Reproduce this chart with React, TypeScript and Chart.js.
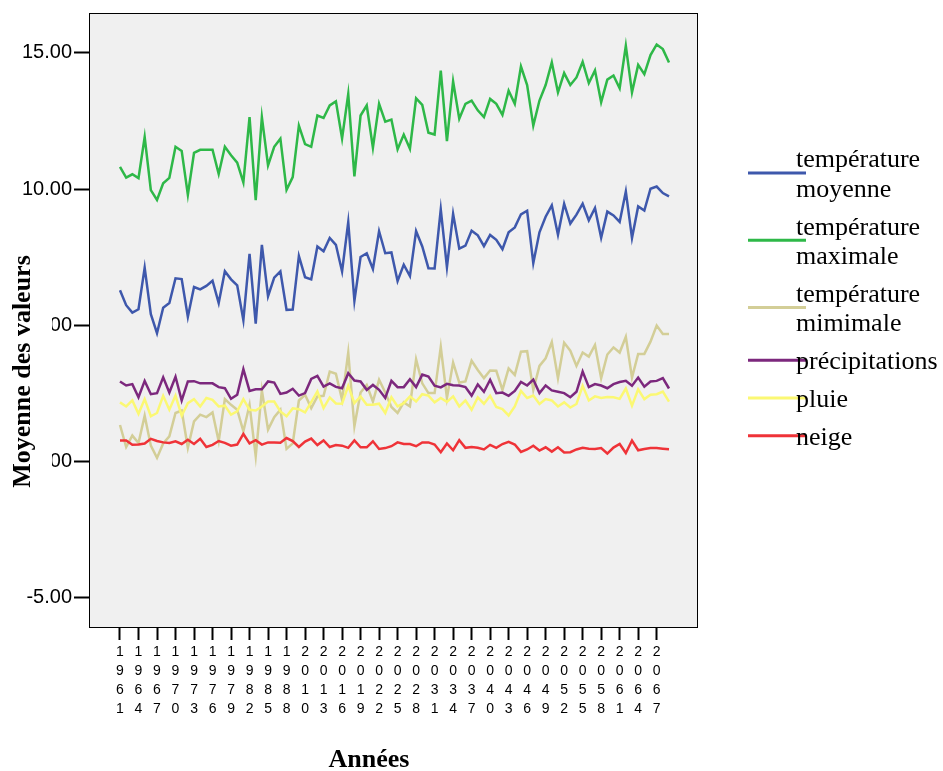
import React, { useEffect, useRef } from "react";
import { Chart, registerables } from "chart.js";

Chart.register(...registerables);

const years = [
  1961, 1962, 1963, 1964, 1965, 1966, 1967, 1968, 1969, 1970,
  1971, 1972, 1973, 1974, 1975, 1976, 1977, 1978, 1979, 1980,
  1981, 1982, 1983, 1984, 1985, 1986, 1987, 1988, 1989, 1990,
  2010, 2011, 2012, 2013, 2014, 2015, 2016, 2017, 2018, 2019,
  2020, 2021, 2022, 2023, 2024, 2025, 2026, 2027, 2028, 2029,
  2030, 2031, 2032, 2033, 2034, 2035, 2036, 2037, 2038, 2039,
  2040, 2041, 2042, 2043, 2044, 2045, 2046, 2047, 2048, 2049,
  2050, 2051, 2052, 2053, 2054, 2055, 2056, 2057, 2058, 2059,
  2060, 2061, 2062, 2063, 2064, 2065, 2066, 2067, 2068, 2069,
];

const temperatureMoyenne = [
  6.28, 5.73, 5.46, 5.58, 7.11, 5.40, 4.70, 5.64, 5.81, 6.72,
  6.69, 5.30, 6.40, 6.31, 6.44, 6.63, 5.81, 6.98, 6.68, 6.46,
  5.18, 7.62, 5.05, 7.95, 6.06, 6.74, 6.97, 5.56, 5.57, 7.54,
  6.76, 6.68, 7.89, 7.71, 8.20, 7.95, 6.97, 8.78, 5.89, 7.50,
  7.64, 7.06, 8.45, 7.64, 7.67, 6.62, 7.22, 6.80, 8.45, 7.89,
  7.09, 7.08, 9.25, 7.13, 9.09, 7.81, 7.92, 8.47, 8.30, 7.90,
  8.31, 8.13, 7.79, 8.41, 8.59, 9.07, 9.20, 7.28, 8.41, 8.98,
  9.40, 8.32, 9.46, 8.73, 9.06, 9.46, 8.85, 9.30, 8.21, 9.17,
  9.03, 8.79, 9.91, 8.20, 9.36, 9.21, 10.01, 10.09, 9.85, 9.73,
];

const temperatureMaximale = [
  10.81, 10.42, 10.54, 10.40, 11.91, 9.96, 9.60, 10.21, 10.41, 11.55,
  11.40, 9.79, 11.33, 11.44, 11.44, 11.44, 10.55, 11.55, 11.24, 10.97,
  10.24, 12.64, 9.59, 12.64, 10.87, 11.55, 11.85, 9.97, 10.44, 12.33,
  11.65, 11.55, 12.70, 12.61, 13.07, 13.22, 11.86, 13.49, 10.46, 12.70,
  13.07, 11.52, 13.13, 12.47, 12.55, 11.46, 12.00, 11.48, 13.33, 13.09,
  12.07, 12.00, 14.35, 11.76, 13.95, 12.58, 13.13, 13.25, 12.89, 12.64,
  13.31, 13.13, 12.72, 13.61, 13.13, 14.50, 13.82, 12.33, 13.25, 13.82,
  14.65, 13.55, 14.26, 13.82, 14.10, 14.67, 13.89, 14.36, 13.19, 14.02,
  14.17, 13.70, 15.26, 13.55, 14.56, 14.22, 14.92, 15.31, 15.14, 14.65,
];

const temperatureMinimale = [
  1.33, 0.52, 0.94, 0.67, 1.67, 0.57, 0.12, 0.65, 0.91, 1.77,
  1.86, 0.49, 1.46, 1.71, 1.62, 1.79, 0.73, 2.28, 2.07, 1.89,
  1.10, 2.07, 0.18, 2.60, 1.16, 1.62, 1.89, 0.45, 0.65, 2.23,
  2.44, 1.95, 2.38, 2.40, 3.29, 3.21, 2.25, 3.99, 1.28, 2.52,
  2.80, 2.19, 2.99, 2.52, 1.99, 1.77, 2.16, 2.01, 3.74, 2.86,
  2.50, 2.50, 4.20, 2.32, 3.62, 2.89, 2.93, 3.69, 3.35, 3.05,
  3.33, 3.32, 2.62, 3.41, 3.17, 4.02, 4.04, 2.62, 3.50, 3.78,
  4.38, 3.05, 4.35, 4.06, 3.50, 3.99, 3.84, 4.27, 3.05, 3.92,
  4.18, 3.99, 4.57, 3.07, 3.94, 3.94, 4.39, 4.98, 4.67, 4.67,
];

const precipitations = [
  2.93, 2.78, 2.83, 2.35, 2.95, 2.46, 2.50, 3.08, 2.52, 3.10,
  2.23, 2.93, 2.94, 2.86, 2.86, 2.86, 2.72, 2.68, 2.29, 2.44,
  3.38, 2.58, 2.64, 2.64, 2.93, 2.89, 2.47, 2.52, 2.66, 2.41,
  2.50, 3.02, 3.13, 2.74, 2.86, 2.73, 2.68, 3.23, 2.96, 2.93,
  2.62, 2.80, 2.62, 2.32, 2.95, 2.72, 2.72, 3.01, 2.72, 3.18,
  3.11, 2.77, 2.71, 2.84, 2.79, 2.78, 2.72, 2.41, 2.82, 2.55,
  2.99, 2.50, 2.52, 2.40, 2.58, 2.91, 2.78, 3.00, 2.50, 2.78,
  2.60, 2.55, 2.50, 2.35, 2.55, 3.29, 2.72, 2.83, 2.78, 2.68,
  2.83, 2.91, 2.95, 2.77, 3.07, 2.74, 2.93, 2.95, 3.05, 2.67,
];

const pluie = [
  2.16, 2.01, 2.23, 1.74, 2.28, 1.65, 1.77, 2.40, 1.89, 2.41,
  1.67, 2.13, 2.28, 2.01, 2.32, 2.25, 2.01, 2.04, 1.71, 1.83,
  2.28, 1.89, 1.86, 2.01, 2.19, 2.19, 1.83, 1.65, 1.94, 1.91,
  1.79, 2.17, 2.56, 1.95, 2.34, 2.12, 2.11, 2.77, 2.13, 2.38,
  2.07, 2.07, 2.11, 1.77, 2.35, 2.01, 2.13, 2.38, 2.19, 2.46,
  2.41, 2.16, 2.32, 2.18, 2.38, 2.01, 2.23, 1.89, 2.34, 2.11,
  2.40, 1.99, 1.91, 1.68, 2.01, 2.58, 2.32, 2.41, 2.10, 2.28,
  2.23, 2.01, 2.16, 1.97, 2.10, 2.77, 2.23, 2.38, 2.32, 2.36,
  2.35, 2.29, 2.67, 2.04, 2.64, 2.28, 2.44, 2.46, 2.56, 2.19,
];

const neige = [
  0.76, 0.76, 0.60, 0.61, 0.65, 0.82, 0.74, 0.69, 0.67, 0.73,
  0.63, 0.79, 0.63, 0.82, 0.52, 0.60, 0.74, 0.67, 0.57, 0.61,
  1.00, 0.65, 0.77, 0.61, 0.69, 0.69, 0.68, 0.85, 0.74, 0.52,
  0.72, 0.83, 0.59, 0.76, 0.52, 0.59, 0.57, 0.49, 0.76, 0.51,
  0.51, 0.73, 0.45, 0.48, 0.55, 0.69, 0.63, 0.63, 0.55, 0.69,
  0.69, 0.61, 0.33, 0.65, 0.40, 0.77, 0.49, 0.52, 0.49, 0.43,
  0.60, 0.49, 0.63, 0.71, 0.61, 0.34, 0.43, 0.57, 0.39, 0.51,
  0.35, 0.51, 0.32, 0.33, 0.43, 0.49, 0.46, 0.45, 0.48, 0.28,
  0.50, 0.63, 0.30, 0.76, 0.40, 0.45, 0.48, 0.48, 0.46, 0.44,
];

const seriesLabels = [
  ["température", "moyenne"],
  ["température", "maximale"],
  ["température", "mimimale"],
  ["précipitations"],
  ["pluie"],
  ["neige"],
];

const seriesColors = ["#3E58AC", "#2EB848", "#D3CE97", "#7C287D", "#FBF873", "#EF3338"];

const yTickValues = [-5, 0, 5, 10, 15];

const yTitle = "Moyenne des valeurs";
const xTitle = "Années";

const overlayPlugin = {
  id: "spssOverlay",
  beforeDraw(chart: any) {
    const { ctx, chartArea } = chart;
    ctx.save();
    ctx.fillStyle = "#ffffff";
    ctx.fillRect(0, 0, chart.width, chart.height);
    ctx.fillStyle = "#f0f0f0";
    ctx.fillRect(chartArea.left, chartArea.top, chartArea.right - chartArea.left, chartArea.bottom - chartArea.top);
    ctx.restore();
  },
  afterDraw(chart: any) {
    const { ctx, chartArea } = chart;
    ctx.save();
    // plot frame
    ctx.strokeStyle = "#000000";
    ctx.lineWidth = 1;
    ctx.strokeRect(chartArea.left - 0.5, chartArea.top - 0.5, chartArea.right - chartArea.left, chartArea.bottom - chartArea.top);

    // y-axis title with white box (hides part of tick labels as in the reference)
    ctx.fillStyle = "#ffffff";
    ctx.fillRect(0, 250, 52, 244);
    ctx.fillStyle = "#000000";
    ctx.font = "bold 26px 'Liberation Serif', 'Times New Roman', serif";
    ctx.textAlign = "center";
    ctx.textBaseline = "alphabetic";
    ctx.translate(30, 371.5);
    ctx.rotate(-Math.PI / 2);
    ctx.fillText(yTitle, 0, 0);
    ctx.setTransform(1, 0, 0, 1, 0, 0);

    // x-axis title
    ctx.font = "bold 26px 'Liberation Serif', 'Times New Roman', serif";
    ctx.textAlign = "center";
    ctx.textBaseline = "alphabetic";
    ctx.fillText(xTitle, 369, 767);

    // legend
    const lineH = 29.5;
    const gap = 8.3;
    let top = 143.5;
    const lineX0 = 748;
    const lineX1 = 806;
    const textX = 796;
    ctx.font = "26px 'Liberation Serif', 'Times New Roman', serif";
    ctx.textAlign = "left";
    chart.data.datasets.forEach((ds: any, k: number) => {
      const lines: string[] = seriesLabels[k];
      const h = lines.length * lineH;
      const cy = top + h / 2;
      ctx.strokeStyle = ds.borderColor;
      ctx.lineWidth = 3;
      ctx.beginPath();
      ctx.moveTo(lineX0, cy);
      ctx.lineTo(lineX1, cy);
      ctx.stroke();
      ctx.fillStyle = "#000000";
      lines.forEach((t, j) => {
        ctx.fillText(t, textX, top + j * lineH + 23.8);
      });
      top += h + gap;
    });
    ctx.restore();
  },
};

export default function App() {
  const canvasRef = useRef<HTMLCanvasElement | null>(null);

  useEffect(() => {
    const canvas = canvasRef.current;
    if (!canvas) return;
    const seriesValues = [
      temperatureMoyenne,
      temperatureMaximale,
      temperatureMinimale,
      precipitations,
      pluie,
      neige,
    ];
    const tickIndices = years.map((_, i) => i).filter((i) => i % 3 === 0);
    const chart = new Chart(canvas, {
      type: "line",
      data: {
        datasets: seriesValues.map((vals, k) => ({
          label: seriesLabels[k].join(" "),
          data: vals.map((v, i) => ({ x: i, y: v })),
          borderColor: seriesColors[k],
          backgroundColor: seriesColors[k],
          borderWidth: 2.5,
          pointRadius: 0,
          pointHoverRadius: 0,
          tension: 0,
          fill: false,
          order: seriesValues.length - 1 - k,
        })),
      },
      options: {
        responsive: false,
        devicePixelRatio: 1,
        animation: false,
        events: [],
        layout: { padding: { top: 11, right: 245, bottom: 0, left: 0 } },
        plugins: {
          legend: { display: false },
          tooltip: { enabled: false },
          title: { display: false },
        },
        scales: {
          x: {
            type: "linear",
            min: -4.863,
            max: 93.7,
            afterBuildTicks: (scale: any) => {
              scale.ticks = tickIndices.map((v) => ({ value: v }));
            },
            afterFit: (scale: any) => {
              scale.height = 143;
            },
            ticks: {
              autoSkip: false,
              maxRotation: 0,
              minRotation: 0,
              color: "#000000",
              padding: 3,
              font: { family: "'Liberation Sans', Arial, sans-serif", size: 14, lineHeight: 19 / 14 },
              callback: (value: any) => {
                const y = years[Number(value)];
                return y ? String(y).split("") : "";
              },
            },
            grid: {
              display: true,
              drawOnChartArea: false,
              drawTicks: true,
              tickLength: 12,
              tickColor: "#000000",
              tickWidth: 2,
            },
            border: { display: false },
          },
          y: {
            type: "linear",
            min: -6.13,
            max: 16.43,
            afterBuildTicks: (scale: any) => {
              scale.ticks = yTickValues.map((v) => ({ value: v }));
            },
            afterFit: (scale: any) => {
              scale.width = 90;
            },
            ticks: {
              color: "#000000",
              padding: 2,
              font: { family: "'Liberation Sans', Arial, sans-serif", size: 20 },
              callback: (value: any) => Number(value).toFixed(2),
            },
            grid: {
              display: true,
              drawOnChartArea: false,
              drawTicks: true,
              tickLength: 16,
              tickColor: "#000000",
              tickWidth: 2,
            },
            border: { display: false },
          },
        },
      },
      plugins: [overlayPlugin],
    } as any);
    return () => chart.destroy();
  }, []);

  return (
    <div style={{ position: "absolute", left: 0, top: 0, width: 943, height: 771, background: "#ffffff" }}>
      <canvas ref={canvasRef} width={943} height={771} style={{ display: "block", width: 943, height: 771 }} />
    </div>
  );
}
